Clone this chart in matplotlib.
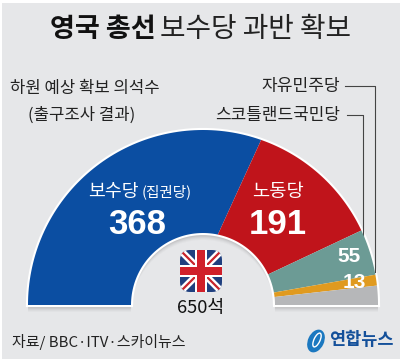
import numpy as np
import matplotlib.pyplot as plt
from matplotlib.patches import Polygon, FancyBboxPatch, Rectangle, Ellipse

KR = ['Noto Sans CJK KR', 'DejaVu Sans']
DIGITS = ['Liberation Sans', 'DejaVu Sans']
plt.rcParams['font.family'] = KR

# seats (gray part is the remainder of 650)
parties = ['보수당', '노동당', '스코틀랜드국민당', '자유민주당', '기타']
seats = [368, 191, 55, 13, 23]
total_seats = 650
colors = ['#0b4ea2', '#c0141b', '#6c9b95', '#e09a1f', '#b6b7b9']

title_bold = '영국 총선'
title_light = '보수당 과반 확보'
subtitle = ['하원 예상 확보 의석수', '(출구조사 결과)']
source = '자료/ BBC·ITV·스카이뉴스'

cx, cy = 203, 305
r_out, r_in = 175, 72
# the blue/red cut leans over at the outer rim in the original
lean = [-7.5, 0, 0, 0]

fig = plt.figure(figsize=(4.0, 3.61), dpi=100, facecolor='white')
ax = fig.add_axes([0, 0, 1, 1])
ax.set_xlim(0, 400)
ax.set_ylim(361, 0)
ax.axis('off')
ax.add_patch(Rectangle((2, 3), 398, 356, fc='#e6e7e9', ec='none', zorder=0))


def xy(r, deg):
    a = np.radians(deg)
    return np.column_stack([cx + r * np.cos(a), cy - r * np.sin(a)])


def sector(a1_in, a2_in, a1_out, a2_out):
    outer = xy(r_out, np.linspace(a1_out, a2_out, 80))
    inner = xy(r_in, np.linspace(a2_in, a1_in, 50))
    return np.vstack([outer, inner])


# soft shadow under the arch
for off, al in zip([7, 6, 5, 4, 3, 2], [.03, .04, .05, .07, .08, .1]):
    shadow = sector(180, 0, 180, 0) + [0, off]
    ax.add_patch(Polygon(shadow, fc='#555555', ec='none', alpha=al, zorder=1))

ax.add_patch(Polygon(sector(180, 0, 180, 0), fc='white', ec='white', lw=3, zorder=2))

cum = np.cumsum(seats)
angles = 180 * (1 - cum / total_seats)
a_in = np.r_[180, angles]
a_out = np.r_[180, angles[:-1] + lean, 0]
for i in range(len(seats)):
    pts = sector(a_in[i], a_in[i + 1], a_out[i], a_out[i + 1])
    ax.add_patch(Polygon(pts, fc=colors[i], ec='none', zorder=3))

# titles
ax.text(102.5, 29, title_bold, fontsize=19.5, weight='bold', ha='center', va='center', color='#111111')
ax.text(256, 29, title_light, fontsize=20, weight='light', ha='center', va='center', color='#222222')
ax.text(85, 89, subtitle[0], fontsize=12, ha='center', va='center', color='#222222', weight='light')
ax.text(82, 115, subtitle[1], fontsize=12, ha='center', va='center', color='#222222', weight='light')

# leader lines and their labels
ax.text(340, 86, parties[3], fontsize=12.3, ha='right', va='center', color='#222222')
ax.text(340, 115, parties[2], fontsize=12.2, ha='right', va='center', color='#222222')
ax.plot([345, 375, 375], [86, 86, 272], color='#444444', lw=0.8, zorder=2.5)
ax.plot([347, 363, 363], [115, 115, 240], color='#444444', lw=0.8, zorder=2.5)

# value labels
ax.text(88, 192, parties[0], fontsize=13.2, ha='left', va='center', color='white', weight='medium')
ax.text(142, 192, '(집권당)', fontsize=10.5, ha='left', va='center', color='white', weight='light')
ax.text(137, 225, str(seats[0]), fontsize=25, family=DIGITS, weight='bold', ha='center', va='center', color='white')
ax.text(278, 192, parties[1], fontsize=13.5, ha='center', va='center', color='white', weight='medium')
ax.text(278, 225, str(seats[1]), fontsize=25, family=DIGITS, weight='bold', ha='center', va='center', color='white')
ax.text(349, 257, str(seats[2]), fontsize=15, family=DIGITS, weight='bold', ha='center', va='center', color='white')
ax.text(354, 283, str(seats[3]), fontsize=15, family=DIGITS, weight='bold', ha='center', va='center', color='white')

# flag
flag = FancyBboxPatch((186, 256), 30, 30, boxstyle='round,pad=6,rounding_size=10', fc='#1f3f7f', ec='none', zorder=4)
ax.add_patch(flag)
for (x0, y0, x1, y1) in [(180, 250, 222, 292), (180, 292, 222, 250)]:
    l1, = ax.plot([x0, x1], [y0, y1], color='white', lw=5, zorder=5, solid_capstyle='butt')
    l2, = ax.plot([x0, x1], [y0, y1], color='#c8242b', lw=1.6, zorder=6, solid_capstyle='butt')
    l1.set_clip_path(flag)
    l2.set_clip_path(flag)
for p in [Rectangle((195, 250), 12, 42, fc='white', ec='none', zorder=7),
          Rectangle((180, 265), 42, 12, fc='white', ec='none', zorder=7),
          Rectangle((197, 250), 8, 42, fc='#d0202a', ec='none', zorder=8),
          Rectangle((180, 267), 42, 8, fc='#d0202a', ec='none', zorder=8)]:
    ax.add_patch(p)
    p.set_clip_path(flag)

ax.text(201, 308, str(total_seats) + '석', fontsize=13.2, ha='center', va='center', color='#111111')

# footer
ax.text(12, 342, source, fontsize=10.8, ha='left', va='center', color='#222222', weight='light')
ax.add_patch(Ellipse((316, 341), 16, 24, angle=25, fc='#1b78c0', ec='none', zorder=4))
ax.add_patch(Ellipse((317, 340), 6, 15, angle=25, fc='none', ec='white', lw=1, zorder=5))
ax.text(361, 340, '연합뉴스', fontsize=12.6, weight='bold', ha='center', va='center', color='#14509a')

fig.savefig('out.png', dpi=100)
